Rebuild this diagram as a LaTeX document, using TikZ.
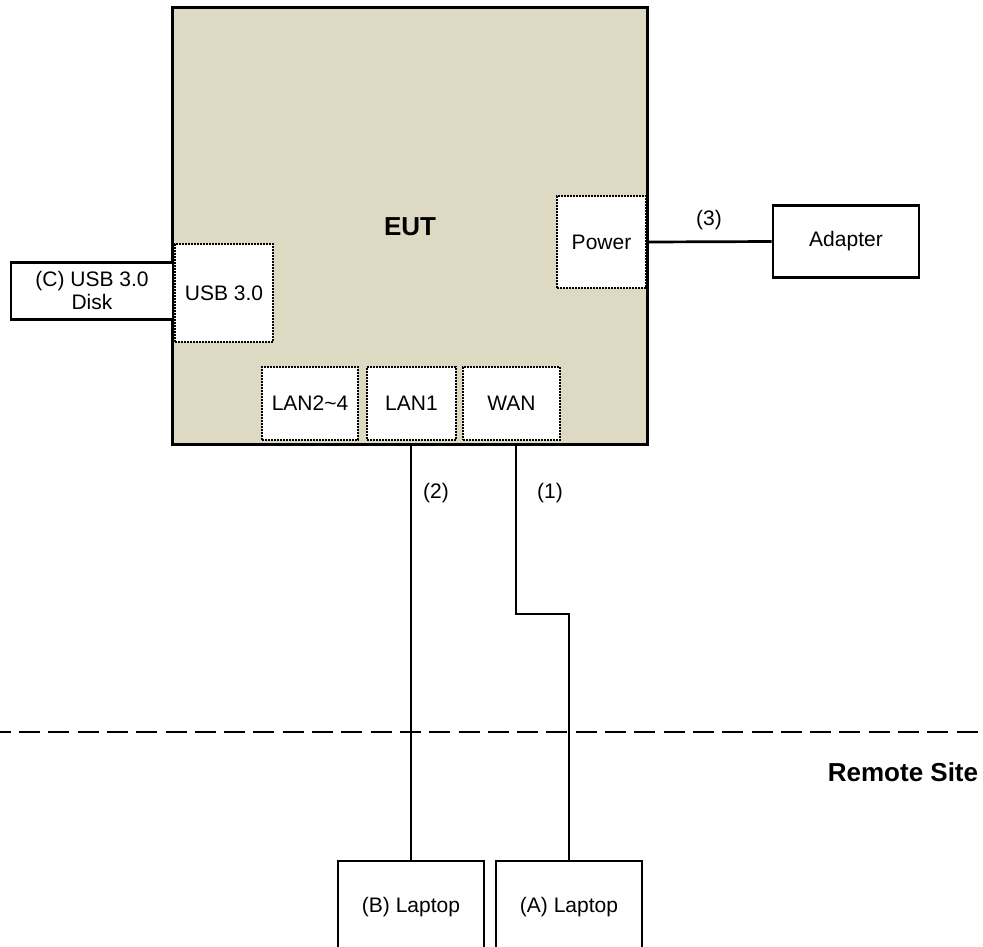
\documentclass[tikz,border=0pt]{standalone}
\usepackage{fontspec}
\setmainfont{Liberation Sans}
\definecolor{eutfill}{RGB}{221,217,195}
\begin{document}
\begin{tikzpicture}[x=1pt,y=-1pt,
  box/.style={draw, line width=2.8pt, fill=white, inner sep=0pt, align=center, font=\fontsize{21}{23}\selectfont},
  port/.style={draw, line width=2.3pt, dash pattern=on 1.6pt off 1.4pt, fill=white, inner sep=0pt, font=\fontsize{21}{23}\selectfont},
  wire/.style={line width=2.7pt},
  lbl/.style={inner sep=0pt, font=\fontsize{21}{23}\selectfont},
  boldlbl/.style={inner sep=0pt, font=\fontsize{26}{28}\selectfont\bfseries}]
\useasboundingbox (0,0) rectangle (983,946);
\clip (0,0) rectangle (983,946);
% EUT body
\node[fill=eutfill, minimum width=474pt, minimum height=436pt, inner sep=0pt] (eut) at (410,226) {};
\node[boldlbl] (euttext) at (410,227) {EUT};
% ports
\node[port, minimum width=89pt, minimum height=92pt] (power) at (601.5,242) {Power};
\node[port, minimum width=98pt, minimum height=98pt] (usb) at (224,293) {USB 3.0};
\node[port, minimum width=96pt, minimum height=73pt] (lan24) at (310,403.5) {LAN2\textasciitilde 4};
\node[port, minimum width=89pt, minimum height=73pt] (lan1) at (411.5,403.5) {LAN1};
\node[port, minimum width=97pt, minimum height=73pt] (wan) at (511.5,403.5) {WAN};
\draw[line width=3.2pt] (eut.north west) rectangle (eut.south east);
% peripherals
\node[box, minimum width=146pt, minimum height=71.5pt] (adapter) at (846,241.5) {Adapter};
\node[box, minimum width=162pt, minimum height=57pt] (disk) at (92,290.7) {(C) USB 3.0\\Disk};
\node[box, minimum width=146pt, minimum height=92pt] (lapB) at (411,907) {(B) Laptop};
\node[box, minimum width=146pt, minimum height=92pt] (lapA) at (569,907) {(A) Laptop};
% dashed boundary
\coordinate (dl) at (0,732);
\coordinate (dr) at (983,732);
\draw[line width=2.7pt, dash pattern=on 21pt off 8.3pt, dash phase=10.3pt] (dl) -- (dr);
% connectors
\draw[wire] (power.east) -- (adapter.west);
\draw[wire] (lapB.north |- eut.south) -- (lapB.north);
\coordinate (bend1) at (516,614);
\coordinate (bend2) at (569,614);
\draw[wire] (bend1 |- eut.south) -- (bend1) -- (bend2) -- (lapA.north);
% labels
\node[lbl] (l2) at (436,493) {(2)};
\node[lbl] (l1) at (550,493) {(1)};
\node[lbl] (l3) at (709,220) {(3)};
\node[boldlbl] (remote) at (903,772) {Remote Site};
\end{tikzpicture}
\end{document}
